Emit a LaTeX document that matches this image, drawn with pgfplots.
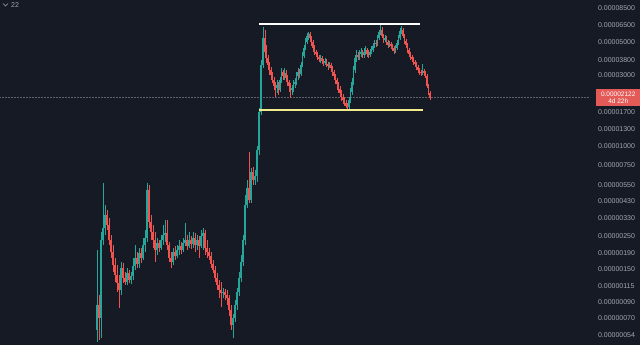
\documentclass[border=0pt]{standalone}
\usepackage{pgfplots}
\usepackage{pgfplotstable}
\pgfplotsset{compat=1.18}
\usepackage{fontspec}
\setmainfont{Liberation Sans}

\definecolor{bg}{HTML}{161A25}
\definecolor{up}{HTML}{26A69A}
\definecolor{down}{HTML}{EF5350}
\definecolor{ticktext}{HTML}{A3A6AF}
\definecolor{level}{HTML}{F1EB8B}
\definecolor{priceline}{HTML}{5D606B}
\definecolor{pricebox}{HTML}{E35A57}

% OHLC candles, prices in units of 1e-8
\pgfplotstableread{
x o h l c
97 58.2 201 48.3 85.6
99 85.6 100 49.8 70
101 70 265 51 234
103 234 566 217 282
105 282 403 253 345
107 345 373 274 296
109 296 329 217 234
111 234 253 177 195
113 195 217 143 159
115 159 177 122 136
117 136 159 105 120
119 120 136 82 108
121 108 167 100 152
123 152 164 120 130
125 130 143 117 122
127 122 152 117 140
129 140 147 120 126
131 126 143 118 134
133 134 177 126 157
135 157 217 147 177
137 177 195 152 162
139 162 207 152 192
141 192 207 164 177
143 177 242 172 217
145 217 274 195 242
147 242 566 227 508
149 508 549 282 310
151 310 345 234 265
153 265 296 207 234
155 234 265 167 201
157 201 242 186 224
159 224 234 195 207
161 207 253 201 234
163 234 296 217 253
165 253 319 227 261
167 261 319 201 217
169 217 227 167 177
171 177 195 152 167
173 167 207 159 195
175 195 213 172 183
177 183 217 177 201
179 201 234 186 213
181 213 227 189 201
183 201 242 195 224
185 224 305 213 234
187 234 253 201 213
189 213 265 207 234
191 234 249 204 220
193 220 265 207 242
195 242 261 195 217
197 217 253 201 234
199 234 249 177 213
201 213 274 207 249
203 249 282 201 261
205 261 274 186 207
207 207 234 177 195
209 195 207 172 183
211 183 195 152 162
213 162 172 140 147
215 147 157 122 130
217 130 140 108 117
219 117 126 95 108
221 108 122 83 103
223 103 112 95 105
225 105 110 92 100
227 100 108 86 95
229 95 100 72 79
231 79 86 58 63
233 63 75 51 70
235 70 92 66 86
237 86 112 79 105
239 105 143 98 130
241 130 186 122 167
243 167 253 157 234
245 234 470 217 403
247 403 593 385 520
249 520 915 415 435
251 435 714 415 675
253 675 730 549 593
255 593 692 549 632
257 632 1000 575 944
259 944 1808 870 1699
261 1699 3800 1622 3517
263 3517 6334 3358 5342
265 5342 6047 3920 4301
266.5 4301 4793 3628 3920
268 3920 4106 3255 3517
269.5 3517 3685 3013 3255
271 3255 3410 2789 3013
272.5 3013 3156 2662 2789
274 2789 2921 2389 2540
275.5 2540 2704 2144 2464
277 2464 2789 2280 2581
278.5 2581 2704 2211 2389
280 2389 2921 2316 2789
281.5 2789 3358 2662 3156
283 3156 3255 2789 2965
284.5 2965 3358 2789 3107
286 3107 3255 2704 2876
287.5 2876 3013 2540 2704
289 2704 2789 2316 2540
290.5 2540 2662 2111 2389
292 2389 2581 2211 2464
293.5 2464 2789 2316 2620
295 2620 2876 2464 2704
296.5 2704 3156 2581 2965
298 2965 3358 2789 3156
299.5 3156 3300 2876 3060
301 3060 3685 2965 3517
302.5 3517 4301 3410 4040
304 4040 4793 3920 4576
305.5 4576 5342 4437 5022
307 5022 5772 4870 5510
308.5 5510 5862 5179 5680
310 5680 5862 5022 5342
311.5 5342 5510 4720 5022
313 5022 5179 4301 4576
314.5 4576 4793 4106 4301
316 4301 4437 3981 4170
317.5 4170 4301 3800 3981
319 3981 4106 3685 3860
320.5 3860 4106 3628 3920
322 3920 4040 3570 3740
323.5 3740 3860 3460 3628
325 3628 3920 3517 3740
326.5 3740 3860 3410 3570
328 3570 3685 3255 3460
329.5 3460 3685 3358 3517
331 3517 3628 3156 3358
332.5 3358 3460 2965 3156
334 3156 3255 2789 2965
335.5 2965 3060 2620 2789
337 2789 2876 2389 2620
338.5 2620 2704 2280 2425
340 2425 2540 2144 2280
341.5 2280 2389 2015 2144
343 2144 2245 1925 2046
344.5 2046 2144 1865 1953
346 1953 2046 1808 1865
347.5 1865 1953 1753 1836
349 1836 2144 1753 2046
350.5 2046 2464 1953 2316
352 2316 2876 2211 2704
353.5 2704 3460 2581 3255
355 3255 4106 3107 3920
356.5 3920 4437 3685 4106
358 4106 4301 3800 3981
359.5 3981 4437 3800 4170
361 4170 4576 3981 4301
362.5 4301 4437 3920 4106
364 4106 4576 3920 4301
365.5 4301 4720 4106 4437
367 4437 4576 3981 4170
368.5 4170 4437 3920 4106
370 4106 4505 3981 4301
371.5 4301 4720 4170 4437
373 4437 4945 4301 4720
374.5 4720 5179 4576 4945
376 4945 5179 4648 4870
377.5 4870 5597 4720 5342
379 5342 6047 5179 5862
380.5 5862 6533 5597 6047
382 6047 6334 5342 5510
383.5 5510 5680 4945 5179
385 5179 5597 5022 5342
386.5 5342 5510 4793 5022
388 5022 5179 4576 4793
389.5 4793 5100 4648 4870
391 4870 5022 4505 4720
392.5 4720 4870 4370 4576
394 4576 4720 4170 4370
395.5 4370 4793 4236 4576
397 4576 5179 4437 4945
398.5 4945 5597 4793 5342
400 5342 6236 5179 5950
401.5 5950 6434 5680 6047
403 6047 6236 5342 5510
404.5 5510 5680 4870 5100
406 5100 5260 4576 4793
407.5 4793 4945 4236 4437
409 4437 4576 3981 4170
410.5 4170 4301 3800 3981
412 3981 4106 3685 3860
413.5 3860 3981 3517 3685
415 3685 3800 3410 3570
416.5 3570 3685 3255 3410
418 3410 3517 3107 3255
419.5 3255 3358 3013 3156
421 3156 3255 2965 3107
422.5 3107 3570 3013 3205
424 3205 3300 2965 3107
425.5 3107 3205 2876 2965
427 2965 3060 2464 2540
428.5 2540 2620 2211 2280
430 2280 2350 2046 2122
}\candles

\pgfplotstablegetrowsof{\candles}
\pgfmathtruncatemacro{\lastrow}{\pgfplotsretval-1}

\begin{document}
\begin{tikzpicture}
\fill[bg] (0,0) rectangle (640pt,345pt);
\begin{axis}[
  at={(0,0)}, anchor=south west,
  scale only axis, width=590pt, height=345pt,
  xmin=0, xmax=590,
  ymode=log, ymin=46.1, ymax=9623,
  axis line style={draw=none},
  tick style={draw=none},
  major tick length=0pt, minor tick length=0pt,
  xtick=\empty,
  ytick={54,70,90,115,150,190,250,330,430,550,750,1000,1300,1700,3000,3800,5000,6500,8500},
  yticklabels={0.00000054,0.00000070,0.00000090,0.00000115,0.00000150,0.00000190,0.00000250,0.00000330,0.00000430,0.00000550,0.00000750,0.00001000,0.00001300,0.00001700,0.00003000,0.00003800,0.00005000,0.00006500,0.00008500},
  yticklabel pos=right,
  yticklabel style={font=\fontsize{7}{8}\selectfont, text=ticktext, anchor=west, xshift=4.5pt},
]
% last-price line
\addplot[priceline, densely dotted, line width=0.5pt, forget plot] coordinates {(0,2122) (590,2122)};

% candles: wick from low to high, body from open to close
\pgfplotsforeachungrouped \i in {0,...,\lastrow}{%
  \pgfplotstablegetelem{\i}{x}\of\candles \let\cx\pgfplotsretval
  \pgfplotstablegetelem{\i}{o}\of\candles \let\co\pgfplotsretval
  \pgfplotstablegetelem{\i}{h}\of\candles \let\ch\pgfplotsretval
  \pgfplotstablegetelem{\i}{l}\of\candles \let\cl\pgfplotsretval
  \pgfplotstablegetelem{\i}{c}\of\candles \let\cc\pgfplotsretval
  \pgfmathtruncatemacro{\isup}{\cc>=\co ? 1 : 0}%
  \ifnum\isup=1 \def\ccol{up}\else\def\ccol{down}\fi
  \edef\candle{%
    \noexpand\addplot[\ccol, line width=0.5pt, forget plot] coordinates {(\cx,\cl) (\cx,\ch)};
    \noexpand\addplot[\ccol, line width=1.3pt, forget plot] coordinates {(\cx,\co) (\cx,\cc)};
  }\candle
}

% range levels
\addplot[white, line width=1.6pt, forget plot] coordinates {(259,6635) (420,6635)};
\addplot[level, line width=1.6pt, forget plot] coordinates {(259,1753) (423,1753)};

\coordinate (lastprice) at (axis cs:590,2122);
\end{axis}

% last price tag on the scale
\node[fill=pricebox, anchor=west, minimum width=44pt, minimum height=17pt, inner sep=0pt,
      align=center, text=white, font=\fontsize{6.5}{7}\selectfont]
  at ([xshift=6pt]lastprice) {0.00002122\\4d 22h};

% interval selector in the corner
\draw[ticktext, line width=0.6pt] (3pt,341.5pt) -- (5.5pt,339pt) -- (8pt,341.5pt);
\node[anchor=west, text=ticktext, font=\fontsize{7}{8}\selectfont, inner sep=0pt] at (11pt,340pt) {22};

\pgfresetboundingbox
\path[use as bounding box] (0,0) rectangle (640pt,345pt);
\end{tikzpicture}
\end{document}
